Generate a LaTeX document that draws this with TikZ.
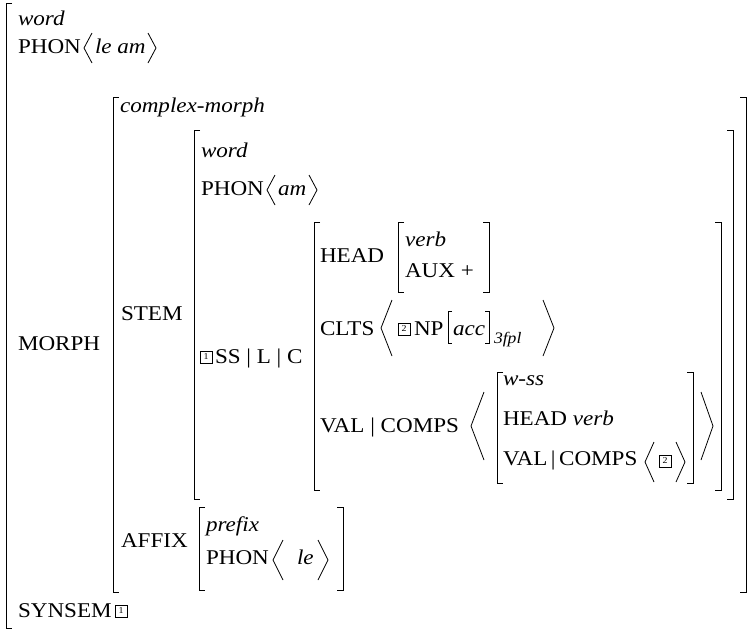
\documentclass[tikz,border=0pt]{standalone}
\usepackage{fontspec}
\setmainfont{Liberation Serif}[FakeStretch=1.1]
\tikzset{
  t/.style={anchor=base west, inner sep=0pt, outer sep=0pt, font=\fontsize{21}{25}\selectfont},
  ti/.style={t, font=\fontsize{21}{25}\selectfont\itshape},
  tsub/.style={t, font=\fontsize{16}{18}\selectfont\itshape},
  br/.style={line width=1pt},
  ab/.style={line width=0.8pt},
  bx/.style={draw, line width=0.6pt, minimum size=12pt, inner sep=0pt, font=\fontsize{9}{9}\selectfont}
}
\newcommand\avmL[3]{\draw[br] (#1+6,#2) -- (#1,#2) -- (#1,#3) -- (#1+6,#3);}
\newcommand\avmR[3]{\draw[br] (#1-6,#2) -- (#1,#2) -- (#1,#3) -- (#1-6,#3);}
\newcommand\angL[4]{\draw[ab] (#2,#3) -- (#1,{(#3+#4)/2}) -- (#2,#4);}
\newcommand\angR[4]{\draw[ab] (#1,#3) -- (#2,{(#3+#4)/2}) -- (#1,#4);}
\begin{document}
\begin{tikzpicture}[x=1pt,y=-1pt]
\useasboundingbox (0,0) rectangle (749,632);
% outer word
\draw[br] (12,3) -- (6,3) -- (6,628) -- (12,628);
\node[ti] (w0) at (18,25) {word};
\node[t] (p0) at (18,53) {PHON};
\angL{84}{92}{33}{63}
\node[ti] (p0v) at (95,53) {le am};
\angR{148}{156}{33}{63}
\node[t] (morph) at (18,350) {MORPH};
\node[t] (syn) at (18,617) {SYNSEM};
\node[bx] (b1b) at (121,611) {1};
% complex-morph
\avmL{113}{97}{592}
\avmR{746}{97}{592}
\node[ti] (cm) at (120,112) {complex-morph};
\node[t] (stem) at (121,320) {STEM};
% stem
\avmL{194}{130}{499}
\avmR{733}{130}{499}
\node[ti] (w1) at (201,157) {word};
\node[t] (p1) at (201,195) {PHON};
\angL{267}{275}{175}{205}
\node[ti] (am) at (278,195) {am};
\angR{309}{317}{175}{205}
\node[bx] (b1) at (206,357) {1};
\node[t] (sslc) at (215,363) {SS | L | C};
% SS|L|C value
\avmL{314}{222}{490}
\avmR{721}{222}{490}
\node[t] (head) at (320,262) {HEAD};
\avmL{398}{222}{292}
\avmR{489}{222}{292}
\node[ti] (verb) at (405,246) {verb};
\node[t] (aux) at (405,277) {AUX +};
\node[t] (clts) at (320,335) {CLTS};
\angL{381}{392}{300}{356}
\node[bx] (b2) at (404,329) {2};
\node[t] (np) at (414,335) {NP};
\draw[br] (452,311) -- (448,311) -- (448,343) -- (452,343);
\node[ti] (acc) at (453,335) {acc};
\draw[br] (485,311) -- (489,311) -- (489,343) -- (485,343);
\node[tsub] (sub) at (494,343) {3fpl};
\angR{543}{554}{300}{356}
\node[t] (vc) at (320,432) {VAL | COMPS};
\angL{471}{484}{392}{460}
\avmL{497}{372}{483}
\avmR{693}{372}{483}
\node[ti] (wss) at (503,385) {w-ss};
\node[t] (hv) at (503,425) {HEAD \textit{verb}};
\node[t] (vc2) at (503,465) {VAL\,|\,COMPS};
\angL{645}{654}{442}{482}
\node[bx] (b2b) at (665,461) {2};
\angR{676}{685}{442}{482}
\angR{701}{713}{392}{460}
% affix
\node[t] (affix) at (121,547) {AFFIX};
\avmL{199}{507}{590}
\avmR{343}{507}{590}
\node[ti] (pref) at (206,531) {prefix};
\node[t] (p2) at (206,564) {PHON};
\angL{273}{283}{540}{580}
\node[ti] (le) at (297,564) {le};
\angR{318}{328}{540}{580}
\end{tikzpicture}
\end{document}
